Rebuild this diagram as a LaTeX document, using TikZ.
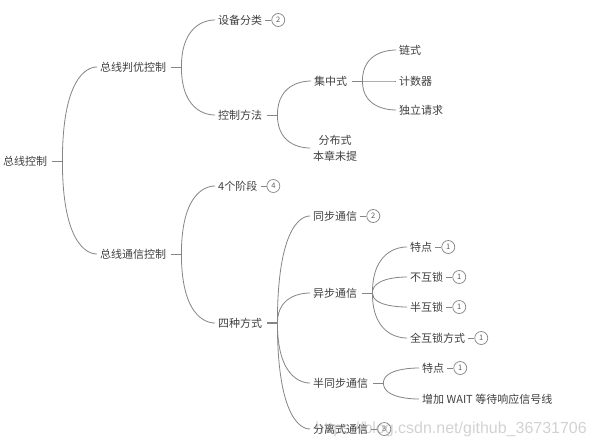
\documentclass[tikz,border=0pt]{standalone}
\usepackage{fontspec}
\setmainfont{Noto Sans CJK SC}
\newfontfamily\wmfont{Liberation Sans}
\usetikzlibrary{calc}
\definecolor{txt}{HTML}{404040}
\definecolor{ln}{HTML}{858585}
\tikzset{
 item/.style={anchor=west, inner sep=3pt, text=txt, font=\fontsize{11}{16}\selectfont},
 link/.style={draw=ln, line width=0.8pt},
 badge/.style={circle, draw=ln, line width=0.7pt, minimum size=13pt, inner sep=0pt, text=txt!85, font=\fontsize{7.5}{8}\selectfont, anchor=west},
}
\newcommand\mybadge[2]{\draw[link] (#1.east) -- ++(6,0) node[badge] (#1b) {#2};}
\newcommand\stub[3][]{\draw[link,#1] ($(#2.east)+(2,0)$) -- ($(#2.east)+(12,0)$) coordinate (#3);}
\newcommand\conn[2]{\draw[link] (#1) .. controls (#1 |- #2.west) and ($(#1 |- #2.west)!0.9!(#2.west)$) .. (#2.west);}
\begin{document}
\begin{tikzpicture}[x=1pt,y=-1pt]
\fill[white] (0,0) rectangle (596,447);
\useasboundingbox (0,0) rectangle (596,447);
% nodes
\node[item] (r) at (0,161) {总线控制};
\node[item] (a) at (97,67) {总线判优控制};
\node[item] (b) at (97,254) {总线通信控制};
\node[item] (a1) at (215,20) {设备分类};
\node[item] (a2) at (215,115) {控制方法};
\node[item] (a21) at (311,81) {集中式};
\node[item, align=center] (a22) at (310,148) {分布式\\本章未提};
\node[item] (a211) at (396,50) {链式};
\node[item] (a212) at (396,81) {计数器};
\node[item] (a213) at (396,110) {独立请求};
\node[item] (b1) at (215,186) {4个阶段};
\node[item] (b2) at (215,323) {四种方式};
\node[item] (b21) at (310,216) {同步通信};
\node[item] (b22) at (310,293) {异步通信};
\node[item] (b23) at (310,383) {半同步通信};
\node[item] (b24) at (310,429) {分离式通信};
\node[item] (b221) at (407,247) {特点};
\node[item] (b222) at (407,277) {不互锁};
\node[item] (b223) at (407,307) {半互锁};
\node[item] (b224) at (407,338) {全互锁方式};
\node[item] (b231) at (419,368) {特点};
\node[item] (b232) at (419,399) {增加 WAIT 等待响应信号线};
% stubs
\stub{r}{rp}
\stub{a}{ap}
\stub{b}{bp}
\stub{a2}{a2p}
\stub{a21}{a21p}
\stub[line width=1.5pt]{b2}{b2p}
\stub{b22}{b22p}
\stub{b23}{b23p}
% connectors
\conn{rp}{a}
\conn{rp}{b}
\conn{ap}{a1}
\conn{ap}{a2}
\conn{a2p}{a21}
\conn{a2p}{a22}
\conn{a21p}{a211}
\conn{a21p}{a212}
\conn{a21p}{a213}
\conn{bp}{b1}
\conn{bp}{b2}
\conn{b2p}{b21}
\conn{b2p}{b22}
\conn{b2p}{b23}
\conn{b2p}{b24}
\conn{b22p}{b221}
\conn{b22p}{b222}
\conn{b22p}{b223}
\conn{b22p}{b224}
\conn{b23p}{b231}
\conn{b23p}{b232}
% badges
\mybadge{a1}{2}
\mybadge{b1}{4}
\mybadge{b21}{2}
\mybadge{b24}{3}
\mybadge{b221}{1}
\mybadge{b222}{1}
\mybadge{b223}{1}
\mybadge{b224}{1}
\mybadge{b231}{1}
% watermark
\node[anchor=east, inner sep=0pt, text=gray, opacity=0.35, font=\wmfont\fontsize{16}{16}\selectfont] (wm) at (587,429) {https://blog.csdn.net/github\_36731706};
\end{tikzpicture}
\end{document}
